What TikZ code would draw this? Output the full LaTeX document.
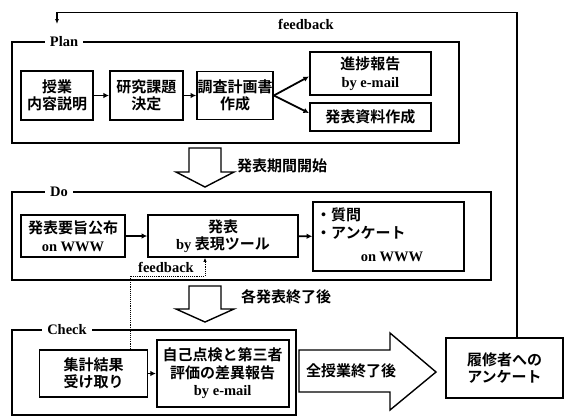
\documentclass[tikz,border=0pt]{standalone}
\usepackage{fontspec}
\setmainfont{Liberation Serif}
\newfontfamily\jpf{Noto Sans CJK JP}[BoldFont={Noto Sans CJK JP Bold}]
\usetikzlibrary{arrows.meta}
\newcommand\E[1]{{\rmfamily\bfseries\fontsize{14.5}{16}\selectfont #1}}
\begin{document}
\begin{tikzpicture}[x=1pt,y=-1pt,
 every node/.style={font=\jpf\bfseries\fontsize{15}{17.5}\selectfont, inner sep=0pt},
 box/.style={draw, line width=1.7pt, align=center},
 frame/.style={line width=1.3pt},
 flab/.style={fill=white, inner xsep=5pt, font=\rmfamily\bfseries\fontsize{14.5}{16}\selectfont},
 lat/.style={font=\rmfamily\bfseries\fontsize{14.5}{16}\selectfont},
 arr/.style={line width=1.8pt, -{Latex[length=5.5pt,width=5.5pt]}},
 hollow/.style={draw, line width=1.4pt, fill=white, line join=miter},
 fbline/.style={line width=0.9pt, densely dotted, -{Latex[length=4pt,width=3.5pt]}},
 topfb/.style={line width=1.2pt, -{Latex[length=5pt,width=4pt]}}
]
\useasboundingbox[fill=white] (0,0) rectangle (564,416);

% frames
\draw[frame] (12,42) rectangle (459,143);
\node[flab] (lplan) at (64,42) {Plan};
\draw[frame] (12,192) rectangle (491,280);
\node[flab] (ldo) at (59,192) {Do};
\draw[frame] (12,330) rectangle (296,415);
\node[flab] (lcheck) at (67,330) {Check};

% Plan boxes
\node[box, minimum width=72pt, minimum height=49pt] (b1) at (57,95.5) {授業\\内容説明};
\node[box, minimum width=73pt, minimum height=49pt] (b2) at (146.3,95.5) {研究課題\\決定};
\node[box, minimum width=76pt, minimum height=48pt] (b3) at (235,95.5) {調査計画書\\作成};
\node[box, minimum width=121pt, minimum height=43pt] (b4) at (370.3,73.5) {進捗報告\\\E{by e-mail}};
\node[box, minimum width=121pt, minimum height=28pt] (b5) at (370.3,117) {発表資料作成};
\draw[arr] (b1) -- (b2);
\draw[arr] (b2) -- (b3);
\draw[arr] (b3.east) -- ([yshift=-3pt]b4.west);
\draw[arr] (b3.east) -- ([yshift=4pt]b5.west);

% arrow Plan -> Do
\draw[hollow] (189,148) -- (221,148) -- (221,172) -- (234,172) -- (205,187) -- (176,172) -- (189,172) -- cycle;
\node[anchor=west] (t1) at (237,166) {発表期間開始};

% Do boxes
\node[box, minimum width=104pt, minimum height=42pt] (d1) at (73,236) {発表要旨公布\\\E{on WWW}};
\node[box, minimum width=150pt, minimum height=42pt] (d2) at (223,236) {発表\\\E{by} 表現ツール};
\node[box, minimum width=151pt, minimum height=69pt] (d3) at (388.5,236.5) {};
\node[anchor=west] (q1) at (316,215) {・質問};
\node[anchor=west] (q2) at (316,233) {・アンケート};
\node[lat] (q3) at (392,257) {on WWW};
\draw[arr] (d1) -- (d2);
\draw[arr] (d2) -- (d3);

% arrow Do -> Check
\draw[hollow] (189,286) -- (221,286) -- (221,309) -- (234,309) -- (205,322) -- (176,309) -- (189,309) -- cycle;
\node[anchor=west] (t2) at (241,297) {各発表終了後};

% Check boxes
\node[box, minimum width=108pt, minimum height=47pt] (c1) at (93.5,373.5) {集計結果\\受け取り};
\node[box, minimum width=132pt, minimum height=67pt] (c2) at (222.7,373.5) {自己点検と第三者\\評価の差異報告\\\E{by e-mail}};
\draw[arr] (c1) -- (c2);

% feedback (dotted) from c1 to d2
\coordinate (f1) at (130,276);
\coordinate (f2) at (205,276);
\draw[fbline] (c1.north -| f1) -- (f1) -- (f2) -- (f2 |- d2.south);
\node[lat] (fbs) at (166,267) {feedback};

% big arrow
\draw[hollow] (299,350) -- (390,350) -- (390,333) -- (436,372) -- (390,410) -- (390,392) -- (299,392) -- cycle;
\node (t3) at (351,371) {全授業終了後};

% questionnaire box
\node[box, minimum width=117pt, minimum height=60pt] (r) at (504.5,368) {履修者への\\アンケート};

% top feedback
\coordinate (g1) at (517,12.6);
\coordinate (g2) at (57,12.6);
\coordinate (g3) at (57,24);
\draw[topfb] (r.north -| g1) -- (g1) -- (g2) -- (g3);
\node[lat] (fbt) at (306,24) {feedback};
\end{tikzpicture}
\end{document}
